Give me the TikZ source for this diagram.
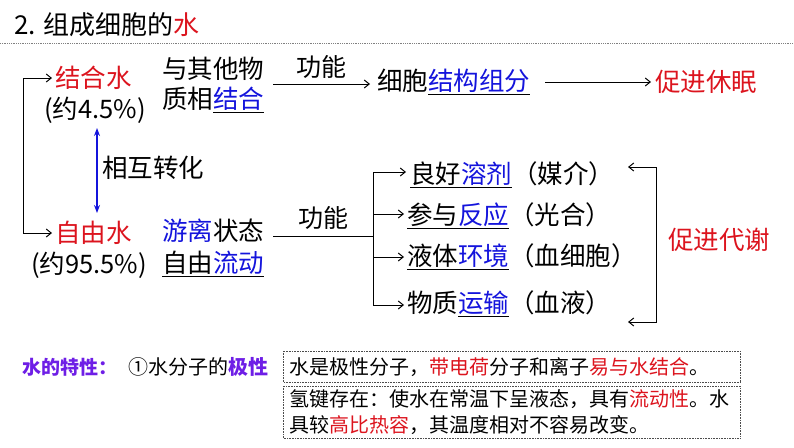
\documentclass[tikz,border=0pt]{standalone}
\usepackage{fontspec}
\setmainfont{Noto Sans CJK SC}
\usetikzlibrary{arrows.meta}
\definecolor{myred}{RGB}{220,20,30}
\definecolor{myblue}{RGB}{20,20,220}
\definecolor{mypurple}{RGB}{110,30,230}
\newcommand{\bu}[1]{\textcolor{myblue}{#1}}
\begin{document}
\begin{tikzpicture}[x=1pt,y=-1pt,
  t/.style={anchor=west,inner sep=0pt,font=\fontsize{25.5}{30}\selectfont},
  s/.style={anchor=west,inner sep=0pt,font=\fontsize{20}{24}\selectfont},
  ar/.style={-{Straight Barb[length=5pt,width=8pt]},line width=1pt},
  ln/.style={line width=1pt},
  box/.style={draw=black!70,densely dotted,line width=0.6pt}]
\useasboundingbox (0,0) rectangle (794,447);
\node[t,font=\fontsize{26}{30}\selectfont] (title) at (14,25) {2. 组成细胞的\textcolor{myred}{水}};
\draw[gray,densely dotted,line width=0.8pt] (0,43) -- (794,43);
% left top
\node[t,text=myred] (jh) at (55,78) {结合水};
\node[t] (jhp) at (44,110) {(约4.5\%)};
\node[t] (yq1) at (162,69) {与其他物};
\node[t] (yq2) at (162,100) {质相\underline{\bu{结合}}};
\coordinate (f1s) at (273,84);
\node[t] (cb) at (377,82) {细胞\underline{\bu{结构组分}}};
\coordinate (f1e) at (370,84);
\draw[ar] (f1s) -- (f1e) node[midway,above=2pt,font=\fontsize{25}{28}\selectfont] (gn1) {功能};
\node[t,text=myred] (cjxm) at (655,82) {促进休眠};
\coordinate (c2) at (545,82);
\draw[ar] (c2) -- ([xshift=-4pt]cjxm.west);
% free water
\node[t,text=myred] (zy) at (55,233) {自由水};
\node[t] (zyp) at (31,265) {(约95.5\%)};
\node[t] (yl) at (162,231) {\bu{游离}状态};
\node[t] (zl) at (162,264) {\underline{自由\bu{流动}}};
\coordinate (lb) at (23,78);
\draw[ar] (zy.west-|lb) -- (lb) -- ([xshift=-3pt]jh.west);
\draw[ar] (lb|-zy.west) -- ([xshift=-3pt]zy.west);
\draw[{Stealth[length=8pt]}-{Stealth[length=8pt]},myblue,line width=1.8pt] (97,128) -- (97,213);
\node[t] (hz) at (102,168) {相互转化};
% functions
\coordinate (f2s) at (273,236);
\coordinate (v) at (373,236);
\draw[ln] (f2s) -- (v) node[midway,above=3pt,font=\fontsize{25}{28}\selectfont] (gn2) {功能};
\node[t] (i1) at (410,175) {\underline{良好\bu{溶剂}}（媒介）};
\node[t] (i2) at (407,216) {\underline{参与\bu{反应}}（光合）};
\node[t] (i3) at (407,257) {\underline{液体\bu{环境}}（血细胞）};
\node[t] (i4) at (407,304) {物质\underline{\bu{运输}}（血液）};
\draw[ln] (373,172) -- (373,305);
\draw[ar] (373,172) -- (406,172);
\draw[ar] (373,214) -- (404,214);
\draw[ar] (373,257) -- (404,257);
\draw[ar] (373,305) -- (404,305);
\node[t,text=myred] (cjdx) at (668,240) {促进代谢};
\draw[ar] (656,167) -- (656,322) -- (628,322);
\draw[ar] (656,167) -- (628,167);
% bottom
\node[s,font=\fontsize{19}{22}\selectfont\bfseries,text=mypurple] (tx) at (22,367) {水的特性：};
\node[s] (jx) at (128,367) {①水分子的\textcolor{mypurple}{\bfseries 极性}};
\draw[box] (283,351) rectangle (740,382);
\node[s] (b1) at (289,367) {水是极性分子，\textcolor{myred}{带电荷}分子和离子\textcolor{myred}{易与水结合}。};
\draw[box] (283,386) rectangle (740,438);
\node[s,align=left,font=\fontsize{20}{26}\selectfont] (b2) at (289,412) {氢键存在：使水在常温下呈液态，具有\textcolor{myred}{流动性}。水\\具较\textcolor{myred}{高比热容}，其温度相对不容易改变。};
\end{tikzpicture}
\end{document}
